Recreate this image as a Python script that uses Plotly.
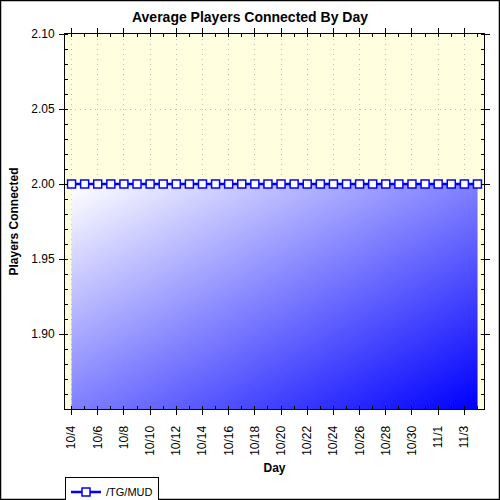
#! /usr/bin/env python3

import numpy as np
import pandas as pd
import plotly.graph_objects as go

# data
year = 2008
days = ['10/4', '10/5', '10/6', '10/7', '10/8', '10/9', '10/10', '10/11',
        '10/12', '10/13', '10/14', '10/15', '10/16', '10/17', '10/18',
        '10/19', '10/20', '10/21', '10/22', '10/23', '10/24', '10/25',
        '10/26', '10/27', '10/28', '10/29', '10/30', '10/31', '11/1',
        '11/2', '11/3', '11/4']
players = [2.0] * len(days)
series_name = '/TG/MUD'
y_ticks = [1.90, 1.95, 2.00, 2.05, 2.10]
y_min, y_max = 1.85, 2.10


def main():
    dates = pd.to_datetime([f'{year}/{d}' for d in days], format='%Y/%m/%d')
    one_day = pd.Timedelta(days=1)

    fig = go.Figure()

    # diagonal white -> blue shading under the line
    nx, ny = 200, 100
    x_edges = pd.date_range(dates[0], dates[-1], periods=nx + 1)
    y_edges = np.linspace(y_min, max(players), ny + 1)
    u = np.linspace(0, 1, nx)
    w = np.linspace(0, 1, ny)
    shade = (u[None, :] + (1 - w[:, None])) / 2
    fig.add_trace(go.Heatmap(x=x_edges.strftime('%Y-%m-%d %H:%M:%S'),
                             y=y_edges, z=shade,
                             colorscale=[[0, '#FFFFFF'], [1, '#0000FF']],
                             zmin=0, zmax=1, showscale=False,
                             hoverinfo='skip', showlegend=False))

    fig.add_trace(go.Scatter(x=dates, y=players, name=series_name,
                             mode='lines+markers',
                             line=dict(color='#0000FF', width=2.5),
                             marker=dict(symbol='square', size=8,
                                         color='white',
                                         line=dict(color='#0000FF',
                                                   width=1.5))))

    fig.update_layout(
        width=500, height=500,
        margin=dict(l=65, r=16, t=34, b=91, autoexpand=False),
        paper_bgcolor='white',
        plot_bgcolor='#FFFFE0',
        font=dict(family='Liberation Sans, Arial', size=12, color='black'),
        title=dict(text='Average Players Connected By Day',
                   font=dict(size=14, weight='bold'),
                   x=0.5, xref='container', xanchor='center',
                   y=0.966, yref='container', yanchor='middle'),
        showlegend=True,
        legend=dict(x=0, y=-0.18, xanchor='left', yanchor='top',
                    orientation='h', bordercolor='black', borderwidth=1,
                    bgcolor='white', font=dict(size=11), itemwidth=30),
        xaxis=dict(type='date', automargin=False,
                   range=[dates[0] - one_day / 2, dates[-1] + one_day / 2],
                   tick0=dates[0], dtick=2 * 86400000,
                   tickformat='%-m/%-d', tickangle=-90,
                   ticks='outside', ticklen=5, tickcolor='black',
                   ticklabelstandoff=6,
                   showline=True, linecolor='black', linewidth=1,
                   mirror='ticks',
                   showgrid=True, gridcolor='#BEBEBE', griddash='1px,4px',
                   zeroline=False,
                   minor=dict(dtick=86400000, ticks='inside', ticklen=3,
                              tickcolor='black', showgrid=False),
                   title=dict(text='Day', font=dict(size=12, weight='bold'),
                              standoff=8)),
        yaxis=dict(automargin=False,
                   range=[y_min, y_max],
                   tickmode='array', tickvals=y_ticks, tickformat='.2f',
                   ticks='outside', ticklen=5, tickcolor='black',
                   ticklabelstandoff=2,
                   showline=True, linecolor='black', linewidth=1,
                   mirror='ticks',
                   showgrid=True, gridcolor='#BEBEBE', griddash='1px,4px',
                   zeroline=False,
                   minor=dict(tickmode='linear', tick0=y_min, dtick=0.01,
                              ticks='inside', ticklen=3, tickcolor='black',
                              showgrid=False),
                   title=dict(text='Players Connected',
                              font=dict(size=12, weight='bold'),
                              standoff=10)),
    )

    # outer frame around the whole picture
    fig.add_shape(type='rect', xref='paper', yref='paper',
                  x0=-0.1539, x1=1.037, y0=-0.2413, y1=1.0893,
                  line=dict(color='black', width=1.5))

    # drop the browser's default page margin so the figure sits at 0,0
    fig.write_html('out.html', config={'displayModeBar': False},
                   post_script="document.body.style.margin = '0';")


if __name__ == '__main__':
    main()
